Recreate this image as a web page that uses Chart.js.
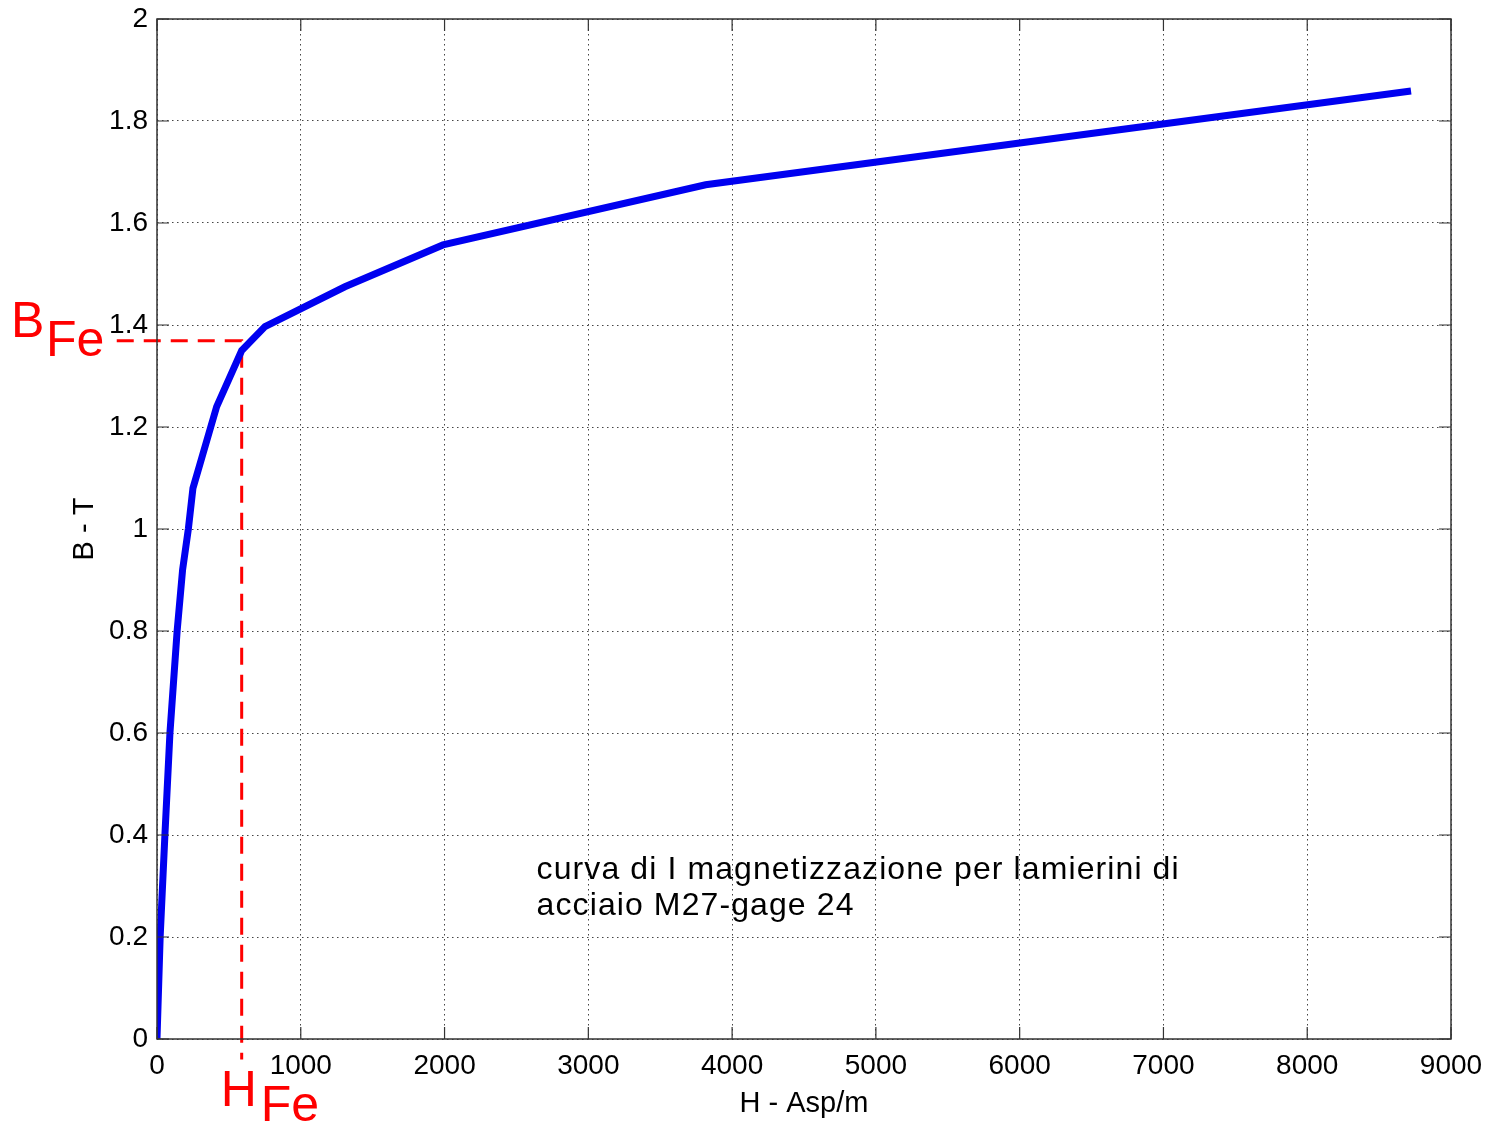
<!DOCTYPE html>
<html>
<head>
<meta charset="utf-8">
<title>curva di I magnetizzazione - M27 gage 24</title>
<script src="https://cdn.jsdelivr.net/npm/chart.js@4.4.1/dist/chart.umd.min.js"></script>
<style>
  html, body { margin: 0; padding: 0; background: #fff; }
  #wrap { width: 1490px; height: 1128px; }
</style>
</head>
<body>
<div id="wrap"><canvas id="bhChart" width="1490" height="1128"></canvas></div>
<script>
// B-H curve for M27 gage 24 lamination steel (H in Asp/m, B in T).
var hValues = [0, 22, 55, 90, 140, 178, 218, 250, 415, 589, 751, 1307, 1989, 3816, 8722];
var bValues = [0, 0.2, 0.4, 0.6, 0.8, 0.92, 1.0, 1.08, 1.24, 1.35, 1.397, 1.475, 1.557, 1.675, 1.859];

// Working point and the red dashed guide running out to both axes
var hFe = 589;
var bFe = 1.369;
var guideH = [-280, hFe, hFe];
var guideB = [bFe, bFe, -0.04];

var xTicks = [0, 1000, 2000, 3000, 4000, 5000, 6000, 7000, 8000, 9000];
var xTickLabels = ['0', '1000', '2000', '3000', '4000', '5000', '6000', '7000', '8000', '9000'];
var yTicks = [0, 0.2, 0.4, 0.6, 0.8, 1, 1.2, 1.4, 1.6, 1.8, 2];
var yTickLabels = ['0', '0.2', '0.4', '0.6', '0.8', '1', '1.2', '1.4', '1.6', '1.8', '2'];

var noteLines = ['curva di I magnetizzazione per lamierini di', 'acciaio M27-gage 24'];
var noteH = 2640;
var noteB = [0.314, 0.243];

var FONT = '"Liberation Sans", Arial, Helvetica, sans-serif';

function toPoints(xs, ys) {
  return xs.map(function(x, i) { return { x: x, y: ys[i] }; });
}

// Box, inward tick marks (matlab style) and the text annotations
var matlabFramePlugin = {
  id: 'matlabFrame',
  afterDraw: function(chart) {
    var ctx = chart.ctx;
    var a = chart.chartArea;
    var xs = chart.scales.x;
    var ys = chart.scales.y;
    var tick = 12;

    ctx.save();
    ctx.strokeStyle = '#333';
    ctx.lineWidth = 1.5;
    ctx.strokeRect(a.left, a.top, a.right - a.left, a.bottom - a.top);
    ctx.lineWidth = 1.2;
    ctx.beginPath();
    xTicks.forEach(function(v) {
      var px = xs.getPixelForValue(v);
      ctx.moveTo(px, a.bottom); ctx.lineTo(px, a.bottom - tick);
      ctx.moveTo(px, a.top); ctx.lineTo(px, a.top + tick);
    });
    yTicks.forEach(function(v) {
      var py = ys.getPixelForValue(v);
      ctx.moveTo(a.left, py); ctx.lineTo(a.left + tick, py);
      ctx.moveTo(a.right, py); ctx.lineTo(a.right - tick, py);
    });
    ctx.stroke();
    ctx.restore();

    // caption inside the plot
    ctx.save();
    ctx.fillStyle = '#000';
    ctx.font = '32px ' + FONT;
    ctx.letterSpacing = '1.1px';
    ctx.textBaseline = 'alphabetic';
    ctx.textAlign = 'left';
    noteLines.forEach(function(line, i) {
      ctx.fillText(line, xs.getPixelForValue(noteH), ys.getPixelForValue(noteB[i]));
    });
    ctx.restore();

    // B_Fe and H_Fe labels in red
    var hx = xs.getPixelForValue(hFe);
    var by = ys.getPixelForValue(bFe);
    var y0 = ys.getPixelForValue(0);
    ctx.save();
    ctx.fillStyle = '#ff0000';
    ctx.font = '50px ' + FONT;
    ctx.textBaseline = 'alphabetic';
    ctx.textAlign = 'left';
    ctx.fillText('B', a.left - 146, by - 4);
    ctx.fillText('Fe', a.left - 111, by + 15);
    ctx.fillText('H', hx - 21, y0 + 67);
    ctx.fillText('Fe', hx + 19, y0 + 82);
    ctx.restore();
  }
};

new Chart(document.getElementById('bhChart').getContext('2d'), {
  type: 'line',
  plugins: [matlabFramePlugin],
  data: {
    datasets: [
      {
        label: 'B-H',
        data: toPoints(hValues, bValues),
        borderColor: '#0000f0',
        borderWidth: 7,
        pointRadius: 0,
        tension: 0,
        fill: false
      },
      {
        label: 'working point',
        data: toPoints(guideH, guideB),
        borderColor: '#ff0000',
        borderWidth: 3,
        borderDash: [17, 10],
        pointRadius: 0,
        tension: 0,
        fill: false,
        clip: false
      }
    ]
  },
  options: {
    responsive: false,
    animation: false,
    devicePixelRatio: 1,
    layout: { padding: { top: 19, right: 39, left: 0, bottom: 0 } },
    plugins: {
      legend: { display: false },
      tooltip: { enabled: false }
    },
    scales: {
      x: {
        type: 'linear',
        min: 0,
        max: 9000,
        afterBuildTicks: function(scale) {
          scale.ticks = xTicks.map(function(v) { return { value: v }; });
        },
        afterFit: function(scale) {
          scale.height = 89;
          scale.paddingLeft = 0;
          scale.paddingRight = 0;
        },
        ticks: {
          color: '#000',
          padding: 10,
          maxRotation: 0,
          autoSkip: false,
          font: { family: FONT, size: 28 },
          callback: function(v, i) { return xTickLabels[i]; }
        },
        grid: { color: '#444', lineWidth: 1, drawTicks: false },
        border: { display: false, dash: [1.5, 3.5] },
        title: {
          display: true,
          text: 'H - Asp/m',
          color: '#000',
          font: { family: FONT, size: 29, lineHeight: 1.2 },
          padding: { top: 0, bottom: 7 }
        }
      },
      y: {
        type: 'linear',
        min: 0,
        max: 2,
        afterBuildTicks: function(scale) {
          scale.ticks = yTicks.map(function(v) { return { value: v }; });
        },
        afterFit: function(scale) {
          scale.width = 157;
          scale.paddingTop = 0;
          scale.paddingBottom = 0;
        },
        ticks: {
          color: '#000',
          padding: 9,
          autoSkip: false,
          font: { family: FONT, size: 28 },
          callback: function(v, i) { return yTickLabels[i]; }
        },
        grid: { color: '#444', lineWidth: 1, drawTicks: false },
        border: { display: false, dash: [1.5, 3.5] },
        title: {
          display: true,
          text: 'B - T',
          color: '#000',
          font: { family: FONT, size: 29, lineHeight: 1.2 },
          padding: { top: 68, bottom: 0 }
        }
      }
    }
  }
});
</script>
</body>
</html>
